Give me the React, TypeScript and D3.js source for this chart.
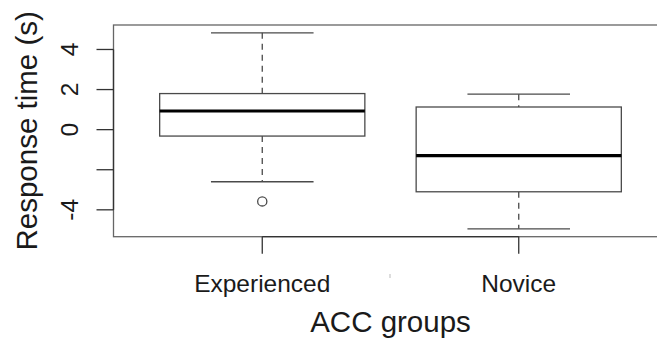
import React from "react";
import * as d3 from "d3";

const groups = ["Experienced", "Novice"];
const lowerWhisker = [-2.6, -4.95];
const q1 = [-0.32, -3.1];
const median = [0.93, -1.3];
const q3 = [1.8, 1.13];
const upperWhisker = [4.83, 1.77];
const outlierGroup = ["Experienced"];
const outlierValue = [-3.58];
const yTicks = [-4, -2, 0, 2, 4];
const yTickLabels = ["-4", "", "0", "2", "4"];
const xTitle = "ACC groups";
const yTitle = "Response time (s)";

const W = 657;
const H = 339;
const left = 113.5;
const right = 667.5;
const top = 25;
const bottom = 236.7;
const FONT = "'Liberation Sans', Arial, Helvetica, sans-serif";

export default function App() {
  const allVals = [...lowerWhisker, ...upperWhisker, ...outlierValue];
  const lo = d3.min(allVals) as number;
  const hi = d3.max(allVals) as number;
  const pad = (hi - lo) * 0.04;
  const y = d3.scaleLinear().domain([lo - pad, hi + pad]).range([bottom, top]);
  const n = groups.length;
  const xPos = d3
    .scaleLinear()
    .domain([0.5 - 0.04 * n, n + 0.5 + 0.04 * n])
    .range([left, right]);
  const unit = xPos(2) - xPos(1);
  const boxW = unit * 0.8;
  const capW = boxW / 2;
  const lineCol = "#4a4a4a";
  const textCol = "#1a1a1a";

  return (
    <svg
      width={W}
      height={H}
      style={{ position: "absolute", left: 0, top: 0, background: "#fff" }}
    >
      {/* plot frame */}
      <rect
        x={left}
        y={top}
        width={right - left}
        height={bottom - top}
        fill="none"
        stroke="#666"
        strokeWidth={1.3}
      />
      {groups.map((g, i) => {
        const cx = xPos(i + 1);
        return (
          <g key={g}>
            <line
              x1={cx}
              x2={cx}
              y1={y(upperWhisker[i])}
              y2={y(q3[i])}
              stroke={lineCol}
              strokeWidth={1.3}
              strokeDasharray="6,5"
            />
            <line
              x1={cx}
              x2={cx}
              y1={y(q1[i])}
              y2={y(lowerWhisker[i])}
              stroke={lineCol}
              strokeWidth={1.3}
              strokeDasharray="6,5"
            />
            <line
              x1={cx - capW / 2}
              x2={cx + capW / 2}
              y1={y(upperWhisker[i])}
              y2={y(upperWhisker[i])}
              stroke={lineCol}
              strokeWidth={1.3}
            />
            <line
              x1={cx - capW / 2}
              x2={cx + capW / 2}
              y1={y(lowerWhisker[i])}
              y2={y(lowerWhisker[i])}
              stroke={lineCol}
              strokeWidth={1.3}
            />
            <rect
              x={cx - boxW / 2}
              y={y(q3[i])}
              width={boxW}
              height={y(q1[i]) - y(q3[i])}
              fill="white"
              stroke={lineCol}
              strokeWidth={1.3}
            />
            <line
              x1={cx - boxW / 2}
              x2={cx + boxW / 2}
              y1={y(median[i])}
              y2={y(median[i])}
              stroke="#000"
              strokeWidth={3.2}
            />
          </g>
        );
      })}
      {outlierValue.map((v, k) => {
        const gi = groups.indexOf(outlierGroup[k]);
        return (
          <circle
            key={k}
            cx={xPos(gi + 1)}
            cy={y(v)}
            r={4.6}
            fill="none"
            stroke={lineCol}
            strokeWidth={1.3}
          />
        );
      })}
      {/* y axis */}
      <line
        x1={left}
        x2={left}
        y1={y(yTicks[0])}
        y2={y(yTicks[yTicks.length - 1])}
        stroke="#333"
        strokeWidth={1.3}
      />
      {yTicks.map((t, i) => (
        <g key={t}>
          <line
            x1={left - 17}
            x2={left}
            y1={y(t)}
            y2={y(t)}
            stroke="#333"
            strokeWidth={1.3}
          />
          {yTickLabels[i] !== "" && (
            <text
              transform={`translate(78,${y(t)}) rotate(-90)`}
              textAnchor="middle"
              fontFamily={FONT}
              fontSize={24.5}
              fill={textCol}
            >
              {yTickLabels[i]}
            </text>
          )}
        </g>
      ))}
      {/* x axis */}
      <line
        x1={xPos(1)}
        x2={xPos(n)}
        y1={bottom}
        y2={bottom}
        stroke="#333"
        strokeWidth={1.3}
      />
      {groups.map((g, i) => (
        <g key={g}>
          <line
            x1={xPos(i + 1)}
            x2={xPos(i + 1)}
            y1={bottom}
            y2={bottom + 17}
            stroke="#333"
            strokeWidth={1.3}
          />
          <text
            x={xPos(i + 1)}
            y={292}
            textAnchor="middle"
            fontFamily={FONT}
            fontSize={24.5}
            fill={textCol}
          >
            {g}
          </text>
        </g>
      ))}
      <rect x={389.5} y={274} width={1} height={4} fill="#bbb" />
      <text
        x={(left + right) / 2}
        y={332}
        textAnchor="middle"
        fontFamily={FONT}
        fontSize={29.5}
        fill={textCol}
      >
        {xTitle}
      </text>
      <text
        transform={`translate(37,${(top + bottom) / 2}) rotate(-90)`}
        textAnchor="middle"
        fontFamily={FONT}
        fontSize={29.5}
        fill={textCol}
      >
        {yTitle}
      </text>
    </svg>
  );
}
